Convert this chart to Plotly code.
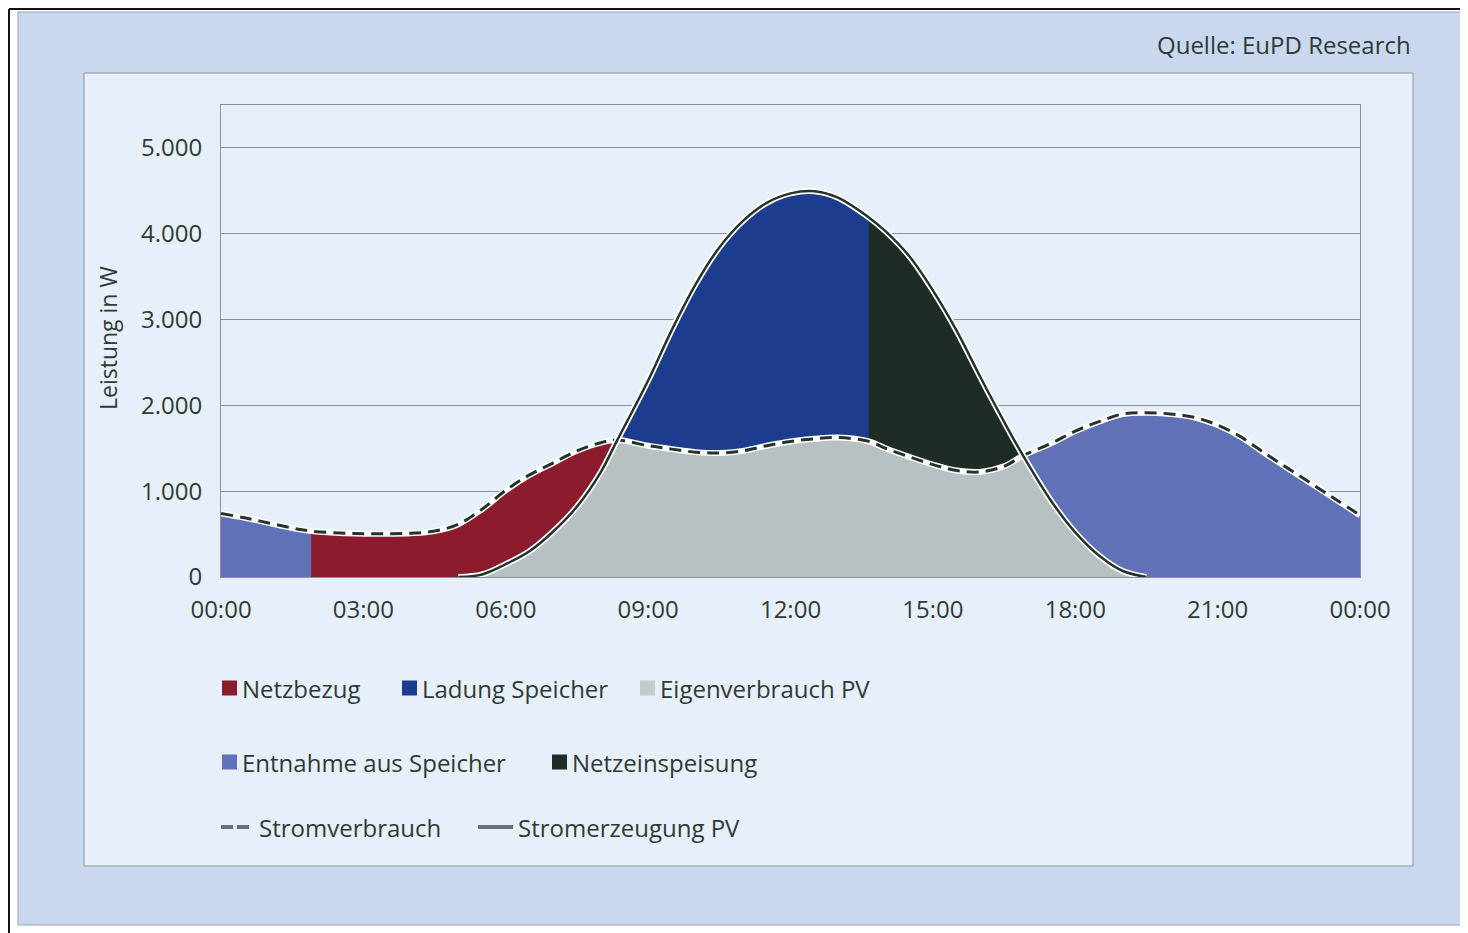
import plotly.graph_objects as go

# ---------------- data ----------------
stunden = [0, 0.5, 1, 1.5, 1.9, 2.5, 3, 3.5, 4, 4.5, 5, 5.5, 6, 6.5, 7, 7.5, 8, 8.35,
           9, 9.5, 10, 10.5, 11, 11.5, 12, 12.5, 13, 13.65, 14, 14.5, 15, 15.5,
           16, 16.5, 16.9, 17.5, 18, 18.5, 19, 19.5, 20, 20.5, 21, 21.5, 22,
           22.5, 23, 23.5, 24]

stromverbrauch = [740, 690, 630, 570, 535, 512, 505, 505, 510, 535, 615, 790, 1010,
                  1190, 1330, 1470, 1565, 1595,
                  1530, 1490, 1455, 1445, 1470, 1530, 1580, 1610, 1625, 1580, 1500, 1400,
                  1310, 1240,
                  1225, 1290, 1415, 1560, 1700, 1810, 1900, 1915, 1900, 1862, 1770, 1630,
                  1440, 1260, 1080, 900, 721]

stromerzeugung_pv = [0, 0, 0, 0, 0, 0, 0, 0, 0, 0, 0, 30, 150,
                     300, 530, 820, 1220, 1595,
                     2290, 2880, 3410, 3840, 4150, 4360, 4470, 4495, 4420, 4190, 4030, 3740,
                     3340, 2870,
                     2330, 1810, 1415, 880, 520, 250, 70, 0, 0, 0, 0, 0,
                     0, 0, 0, 0, 0]

# times at which the colour of the areas changes
ende_entnahme_morgens = 1.9
schnittpunkt_morgens = 8.35
wechsel_einspeisung = 13.65
schnittpunkt_abends = 16.9
pv_start, pv_ende = 5.0, 19.5

tick_stunden = [0, 3, 6, 9, 12, 15, 18, 21, 24]
tick_texte = ["00:00", "03:00", "06:00", "09:00", "12:00", "15:00", "18:00", "21:00", "00:00"]
y_ticks = [0, 1000, 2000, 3000, 4000, 5000]
y_texte = ["0", "1.000", "2.000", "3.000", "4.000", "5.000"]

# ---------------- styles ----------------
C_NETZBEZUG = "#8c1b2e"
C_LADUNG = "#1c3c8e"
C_EIGEN = "#b7c1c1"
C_ENTNAHME = "#6171b7"
C_EINSPEISUNG = "#1f2b25"
C_LINE = "#26322c"
C_TEXT = "#2f3a36"
C_GRID = "#8b909a"
FONT = "Open Sans"

eigenverbrauch = [min(v, p) for v, p in zip(stromverbrauch, stromerzeugung_pv)]


def segment(a, b, series):
    xs, ys = [], []
    for h, val in zip(stunden, series):
        if a - 1e-9 <= h <= b + 1e-9:
            xs.append(h)
            ys.append(val)
    return xs, ys


def prev_hour(t):
    return max(h for h in stunden if h < t - 1e-9)


fig = go.Figure()
SH = dict(shape="spline", smoothing=1.0)


def band(a, b, lower, upper, color, name):
    xl, yl = segment(a, b, lower)
    xu, yu = segment(a, b, upper)
    fig.add_trace(go.Scatter(x=xl, y=yl, mode="lines", line=dict(width=0, **SH),
                             showlegend=False, hoverinfo="skip"))
    fig.add_trace(go.Scatter(x=xu, y=yu, mode="lines", line=dict(width=0, **SH),
                             fill="tonexty", fillcolor=color, name=name,
                             showlegend=False))


# Eigenverbrauch PV
fig.add_trace(go.Scatter(x=stunden, y=eigenverbrauch, mode="lines",
                         line=dict(width=0, **SH), fill="tozeroy", fillcolor=C_EIGEN,
                         name="Eigenverbrauch PV", showlegend=False))
# Netzbezug (drawn a little wider, the morning Entnahme covers its left end)
band(prev_hour(ende_entnahme_morgens), schnittpunkt_morgens, eigenverbrauch, stromverbrauch,
     C_NETZBEZUG, "Netzbezug")
band(0, ende_entnahme_morgens, eigenverbrauch, stromverbrauch, C_ENTNAHME, "Entnahme aus Speicher")
# Netzeinspeisung (drawn a little wider, Ladung Speicher covers its left end)
band(prev_hour(wechsel_einspeisung), schnittpunkt_abends, stromverbrauch, stromerzeugung_pv,
     C_EINSPEISUNG, "Netzeinspeisung")
band(schnittpunkt_morgens, wechsel_einspeisung, stromverbrauch, stromerzeugung_pv, C_LADUNG, "Ladung Speicher")
# Entnahme aus Speicher, evening
band(schnittpunkt_abends, 24, eigenverbrauch, stromverbrauch, C_ENTNAHME, "Entnahme aus Speicher")

# Stromverbrauch dashed line (white halo underneath)
fig.add_trace(go.Scatter(x=stunden, y=stromverbrauch, mode="lines",
                         line=dict(color="white", width=6, **SH), showlegend=False, hoverinfo="skip"))
fig.add_trace(go.Scatter(x=stunden, y=stromverbrauch, mode="lines", name="Stromverbrauch",
                         line=dict(color=C_LINE, width=3, dash="12px,7px", **SH), showlegend=False))
# Stromerzeugung PV solid line
xp, yp = segment(pv_start, pv_ende, stromerzeugung_pv)
fig.add_trace(go.Scatter(x=xp, y=yp, mode="lines",
                         line=dict(color="white", width=6, **SH), showlegend=False, hoverinfo="skip"))
fig.add_trace(go.Scatter(x=xp, y=yp, mode="lines", name="Stromerzeugung PV",
                         line=dict(color=C_LINE, width=2.5, **SH), showlegend=False))

# ---------------- layout helpers (page pixel -> paper) ----------------
OFF = 8  # the page body has an 8px margin
PL, PR, PT, PB = 221, 1360, 105, 577
W, H = 1468 - OFF, 933 - OFF


def fx(x):
    return (x - PL) / (PR - PL)


def fy(y):
    return (PB - y) / (PB - PT)


shapes = []
# light blue page
shapes.append(dict(type="rect", xref="paper", yref="paper", x0=fx(18), x1=fx(1465), y0=fy(925), y1=fy(12),
                   fillcolor="#c9d8ef", line=dict(color="#9aa3b0", width=1), layer="below"))
# scan frame lines
shapes.append(dict(type="line", xref="paper", yref="paper", x0=fx(9), x1=fx(1468), y0=fy(9), y1=fy(9),
                   line=dict(color="#111111", width=2), layer="below"))
shapes.append(dict(type="line", xref="paper", yref="paper", x0=fx(9), x1=fx(9), y0=fy(9), y1=fy(933),
                   line=dict(color="#111111", width=2), layer="below"))
# inner panel
shapes.append(dict(type="rect", xref="paper", yref="paper", x0=fx(84), x1=fx(1413), y0=fy(866), y1=fy(73),
                   fillcolor="#e7f0fa", line=dict(color="#8d9599", width=1), layer="below"))

annotations = []
# legend (custom layout: three rows)
legend_boxes = [
    ("Netzbezug", C_NETZBEZUG, 222, 688),
    ("Ladung Speicher", C_LADUNG, 402, 688),
    ("Eigenverbrauch PV", "#c3cbcb", 640, 688),
    ("Entnahme aus Speicher", C_ENTNAHME, 222, 762),
    ("Netzeinspeisung", C_EINSPEISUNG, 552, 762),
]
for name, col, x, y in legend_boxes:
    shapes.append(dict(type="rect", xref="paper", yref="paper", x0=fx(x), x1=fx(x + 15),
                       y0=fy(y + 7.5), y1=fy(y - 7.5), fillcolor=col, line=dict(width=0)))
    annotations.append(dict(xref="paper", yref="paper", x=fx(x + 18), y=fy(y), text=name,
                            showarrow=False, xanchor="left", yanchor="middle",
                            font=dict(family=FONT, size=24, color=C_TEXT)))
LEG_LINE = "#6e6c78"
y3 = 827
shapes.append(dict(type="line", xref="paper", yref="paper", x0=fx(221), x1=fx(233), y0=fy(y3), y1=fy(y3),
                   line=dict(color=LEG_LINE, width=4)))
shapes.append(dict(type="line", xref="paper", yref="paper", x0=fx(237), x1=fx(249), y0=fy(y3), y1=fy(y3),
                   line=dict(color=LEG_LINE, width=4)))
annotations.append(dict(xref="paper", yref="paper", x=fx(257), y=fy(y3), text="Stromverbrauch",
                        showarrow=False, xanchor="left", yanchor="middle",
                        font=dict(family=FONT, size=24, color=C_TEXT)))
shapes.append(dict(type="line", xref="paper", yref="paper", x0=fx(478), x1=fx(513), y0=fy(y3), y1=fy(y3),
                   line=dict(color=LEG_LINE, width=4)))
annotations.append(dict(xref="paper", yref="paper", x=fx(516), y=fy(y3), text="Stromerzeugung PV",
                        showarrow=False, xanchor="left", yanchor="middle",
                        font=dict(family=FONT, size=24, color=C_TEXT)))
# source
annotations.append(dict(xref="paper", yref="paper", x=fx(1413), y=fy(45), text="Quelle: EuPD Research",
                        showarrow=False, xanchor="right", yanchor="middle",
                        font=dict(family=FONT, size=24, color=C_TEXT)))
# y axis title
annotations.append(dict(xref="paper", yref="paper", x=fx(108), y=fy(338), text="Leistung in W",
                        showarrow=False, textangle=-90, xanchor="center", yanchor="middle",
                        font=dict(family=FONT, size=23, color=C_TEXT)))

fig.update_layout(
    width=W, height=H,
    margin=dict(l=PL - OFF, r=W - (PR - OFF), t=PT - OFF, b=H - (PB - OFF), pad=0),
    paper_bgcolor="white",
    plot_bgcolor="#e9f1fb",
    showlegend=False,
    shapes=shapes,
    annotations=annotations,
    font=dict(family=FONT, size=24, color=C_TEXT),
)
fig.update_xaxes(range=[0, 24], tickvals=tick_stunden, ticktext=tick_texte,
                 showgrid=False, zeroline=False, showline=True, mirror=True,
                 linecolor=C_GRID, linewidth=1, ticks="outside", ticklen=11,
                 tickcolor="rgba(0,0,0,0)", tickfont=dict(family=FONT, size=24, color=C_TEXT))
fig.update_yaxes(range=[0, 5500], tickvals=y_ticks, ticktext=y_texte,
                 showgrid=True, gridcolor=C_GRID, gridwidth=1, zeroline=False,
                 showline=True, mirror=True, linecolor=C_GRID, linewidth=1,
                 ticks="outside", ticklen=13, tickcolor="rgba(0,0,0,0)",
                 tickfont=dict(family=FONT, size=24, color=C_TEXT))

fig.write_html("out.html")
